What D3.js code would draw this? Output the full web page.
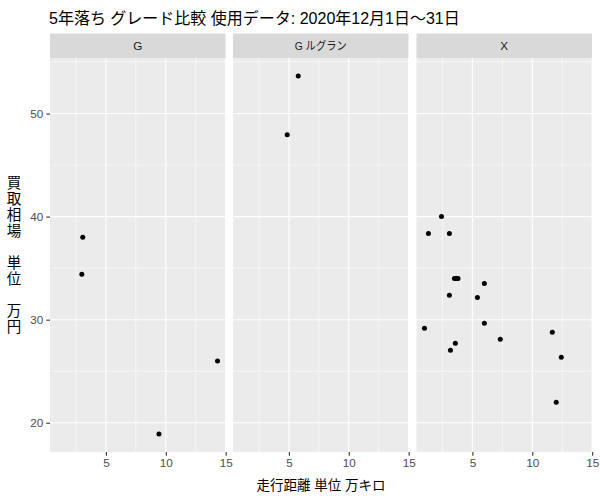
<!DOCTYPE html>
<html><head><meta charset="utf-8">
<script src="https://cdn.jsdelivr.net/npm/d3@7"></script>
<style>body{margin:0;background:#fff;} svg{display:block;}</style>
</head><body>
<svg id="chart" width="600" height="500"></svg>
<script>
const panels = ["G", "G ルグラン", "X"];
const gMileage = [3.07, 2.99, 14.32, 9.43];
const gPrice = [38.0, 34.4, 26.0, 18.9];
const lgMileage = [5.78, 4.86];
const lgPrice = [53.65, 47.94];
const xMileage = [2.42, 1.33, 3.08, 3.5, 3.65, 3.8, 6.0, 3.08, 5.42, 6.0, 1.0, 11.67, 7.33, 3.58, 3.17, 12.42, 12.0];
const xPrice = [40.0, 38.36, 38.36, 34.0, 34.0, 34.0, 33.52, 32.36, 32.16, 29.65, 29.16, 28.78, 28.1, 27.71, 27.03, 26.36, 22.0];
const xTicks = [5, 10, 15];
const yTicks = [20, 30, 40, 50];
const title = "5年落ち グレード比較 使用データ: 2020年12月1日～31日";
const xTitle = "走行距離 単位 万キロ";
const yTitleLines = ["買","取","相","場","","単","位","","万","円"];

const series = [gMileage.map((m,i)=>({x:m,y:gPrice[i]})),
                lgMileage.map((m,i)=>({x:m,y:lgPrice[i]})),
                xMileage.map((m,i)=>({x:m,y:xPrice[i]}))];
const all = series.flat();
const font = "'Liberation Sans', Arial, 'Noto Sans CJK JP', sans-serif";

const svg = d3.select("#chart");
const panelLefts = [50, 233, 416.5];
const panelW = 175.5;
const pTop = 58, pBottom = 452, stripTop = 33.5;

const xe = d3.extent(all, d=>d.x), ye = d3.extent(all, d=>d.y);
const xp = (xe[1]-xe[0])*0.05, yp = (ye[1]-ye[0])*0.05;
const y = d3.scaleLinear().domain([ye[0]-yp, ye[1]+yp]).range([pBottom, pTop]);

// title
svg.append("text").attr("x", 49).attr("y", 24).attr("font-family", font)
  .attr("font-size", 16).attr("fill", "#000").text(title);

panels.forEach((name, pi) => {
  const x0 = panelLefts[pi];
  const x = d3.scaleLinear().domain([xe[0]-xp, xe[1]+xp]).range([x0, x0+panelW]);
  const g = svg.append("g");
  g.append("rect").attr("x", x0).attr("y", stripTop).attr("width", panelW).attr("height", pTop-stripTop).attr("fill", "#D9D9D9");
  const st = g.append("text").attr("x", x0+panelW/2).attr("y", 50).attr("text-anchor","middle")
    .attr("font-family", font).attr("font-size", 11.7).attr("fill", "#1A1A1A")
    .attr("xml:space", "preserve").text(name);
  const w = st.node().getComputedTextLength();
  if (w > 50) st.attr("textLength", 52).attr("lengthAdjust", "spacingAndGlyphs");
  g.append("rect").attr("x", x0).attr("y", pTop).attr("width", panelW).attr("height", pBottom-pTop).attr("fill", "#EBEBEB");
  const xMinor = [2.5, 7.5, 12.5].filter(v => v>=x.domain()[0] && v<=x.domain()[1]);
  const yMinor = [25, 35, 45, 55].filter(v => v>=y.domain()[0] && v<=y.domain()[1]);
  g.selectAll(".ymin").data(yMinor).join("line").attr("x1", x0).attr("x2", x0+panelW)
    .attr("y1", d=>y(d)).attr("y2", d=>y(d)).attr("stroke","#fff").attr("stroke-width",0.55);
  g.selectAll(".xmin").data(xMinor).join("line").attr("y1", pTop).attr("y2", pBottom)
    .attr("x1", d=>x(d)).attr("x2", d=>x(d)).attr("stroke","#fff").attr("stroke-width",0.55);
  g.selectAll(".ymaj").data(yTicks).join("line").attr("x1", x0).attr("x2", x0+panelW)
    .attr("y1", d=>y(d)).attr("y2", d=>y(d)).attr("stroke","#fff").attr("stroke-width",1.1);
  g.selectAll(".xmaj").data(xTicks).join("line").attr("y1", pTop).attr("y2", pBottom)
    .attr("x1", d=>x(d)).attr("x2", d=>x(d)).attr("stroke","#fff").attr("stroke-width",1.1);
  g.selectAll("circle").data(series[pi]).join("circle")
    .attr("cx", d=>x(d.x)).attr("cy", d=>y(d.y)).attr("r", 2.5).attr("fill", "#000");
  const ax = svg.append("g").attr("transform", `translate(0,${pBottom})`)
    .call(d3.axisBottom(x).tickValues(xTicks).tickSize(3.7).tickPadding(3).tickFormat(d3.format("d")));
  ax.select(".domain").remove();
  ax.selectAll("line").attr("stroke", "#333333").attr("stroke-width", 1.1);
  ax.selectAll("text").attr("font-family", font).attr("font-size", 11.7).attr("fill", "#4D4D4D");
});

const ay = svg.append("g").attr("transform", `translate(50,0)`)
  .call(d3.axisLeft(y).tickValues(yTicks).tickSize(3.7).tickPadding(3));
ay.select(".domain").remove();
ay.selectAll("line").attr("stroke", "#333333").attr("stroke-width", 1.1);
ay.selectAll("text").attr("font-family", font).attr("font-size", 11.7).attr("fill", "#4D4D4D");

svg.append("text").attr("x", 321).attr("y", 490).attr("text-anchor","middle")
  .attr("font-family", font).attr("font-size", 13.5).attr("fill", "#000").text(xTitle);

const lh = 15.9;
const midY = (pTop+pBottom)/2;
const yt = svg.append("text").attr("font-family", font).attr("font-size", 14.5).attr("fill", "#000")
  .attr("text-anchor","middle");
yTitleLines.forEach((c, i) => {
  yt.append("tspan").attr("x", 14).attr("y", midY + (i - (yTitleLines.length-1)/2)*lh + 5).text(c || " ");
});
</script>
</body></html>
